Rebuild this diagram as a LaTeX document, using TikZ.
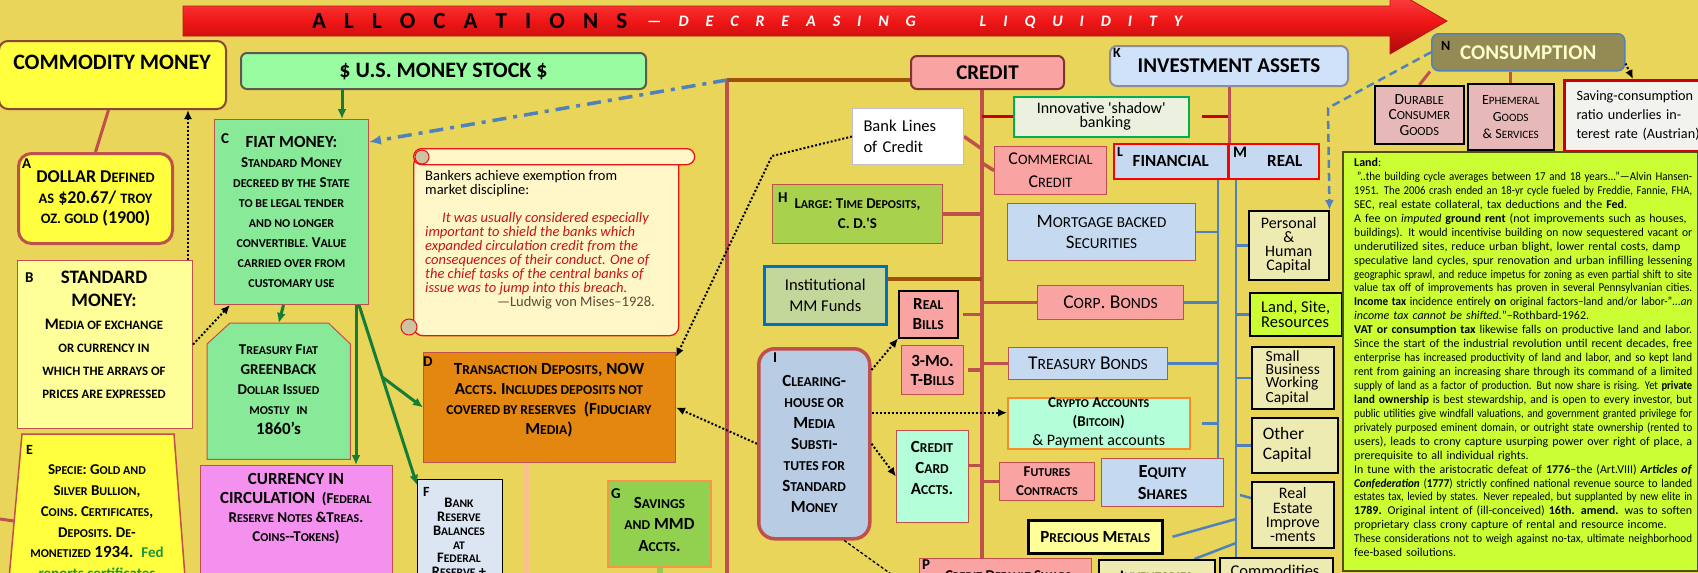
\documentclass[tikz,border=0pt]{standalone}
\usepackage{fontspec}
\setmainfont{Carlito}
\usepackage{graphicx}
\usetikzlibrary{arrows.meta,calc}
\pgfdeclarelayer{back}
\pgfdeclarelayer{lines}
\pgfsetlayers{back,lines,main}
\definecolor{bg}{RGB}{233,213,90}
\definecolor{arrowred}{RGB}{240,22,22}
\definecolor{arrtop}{RGB}{255,80,80}
\definecolor{arrbot}{RGB}{170,10,10}
\definecolor{arrdark}{RGB}{190,20,20}
\definecolor{brd}{RGB}{192,80,77}
\definecolor{cbrown}{RGB}{140,70,50}
\definecolor{dgrayb}{RGB}{90,90,80}
\definecolor{cyellow}{RGB}{255,255,64}
\definecolor{lyellow}{RGB}{255,255,153}
\definecolor{fiatgreen}{RGB}{136,234,152}
\definecolor{msgreen}{RGB}{152,252,160}
\definecolor{curpink}{RGB}{244,144,238}
\definecolor{dorange}{RGB}{227,135,16}
\definecolor{fblue}{RGB}{220,230,242}
\definecolor{ggreen}{RGB}{146,208,80}
\definecolor{gorange}{RGB}{247,150,70}
\definecolor{hgreen}{RGB}{168,210,78}
\definecolor{mmgreen}{RGB}{196,215,155}
\definecolor{mmblue}{RGB}{0,112,192}
\definecolor{crpink}{RGB}{250,163,163}
\definecolor{credbrd}{RGB}{130,50,50}
\definecolor{lblue}{RGB}{197,217,241}
\definecolor{kblue}{RGB}{208,226,250}
\definecolor{kgray}{RGB}{140,140,160}
\definecolor{mint}{RGB}{180,255,217}
\definecolor{crorange}{RGB}{247,140,40}
\definecolor{iblue}{RGB}{184,204,228}
\definecolor{durpink}{RGB}{230,185,184}
\definecolor{olive}{RGB}{148,138,84}
\definecolor{lime}{RGB}{204,255,51}
\definecolor{mcream}{RGB}{238,235,178}
\definecolor{scroll}{RGB}{255,247,200}
\definecolor{scrollred}{RGB}{235,20,20}
\definecolor{quotered}{RGB}{200,20,20}
\definecolor{innov}{RGB}{235,241,222}
\definecolor{innovg}{RGB}{0,176,80}
\definecolor{innovred}{RGB}{200,0,0}
\definecolor{lnblue}{RGB}{79,129,189}
\definecolor{lnbrown}{RGB}{160,80,10}
\definecolor{garrow}{RGB}{20,125,55}
\definecolor{peach}{RGB}{250,192,144}
\definecolor{fedgreen}{RGB}{30,150,60}
\definecolor{sig}{RGB}{90,75,55}
\definecolor{consum}{RGB}{255,255,204}
\definecolor{savbg}{RGB}{242,242,238}
\definecolor{savred}{RGB}{200,0,0}
\definecolor{landbrd}{RGB}{80,80,20}
\definecolor{curl}{RGB}{205,195,160}
\definecolor{bankgray}{RGB}{190,190,205}
\newcommand\fsz[2]{\fontsize{#1}{#2}\selectfont}
\makeatletter
\newcommand\scx[1]{{\fontsize{\the\dimexpr 0.8\dimexpr\f@size pt\relax\relax}{\f@baselineskip}\selectfont\MakeUppercase{#1}}}
\makeatother
\newlength\landw
\setlength\landw{338pt}
\newsavebox\lnbox
\newcommand\jline[1]{\sbox\lnbox{#1}\ifdim\wd\lnbox>\landw\resizebox{\landw}{\height}{\usebox\lnbox}\else\makebox[\landw][s]{#1}\fi}
\newcommand\eline[1]{\sbox\lnbox{#1}\ifdim\wd\lnbox>\landw\resizebox{\landw}{\height}{\usebox\lnbox}\else\usebox\lnbox\fi}
\tikzset{
  bx/.style={draw=brd, line width=1pt, inner sep=0pt, anchor=north west, align=center, text=black},
  lbl/.style={anchor=north west, inner sep=0pt, font=\bfseries\fsz{15}{15}},
  txt/.style={align=center, inner sep=0pt},
  crl/.style={draw=brd, line width=3.5pt},
  bl/.style={draw=lnblue, line width=2.5pt},
  dotar/.style={draw=black, line width=2pt, dash pattern=on 2pt off 2pt, -{Latex[length=9pt,width=8pt]}},
  garr/.style={draw=garrow, line width=3pt, -{Latex[length=10pt,width=9pt]}},
}
\begin{document}
\begin{tikzpicture}[x=1pt,y=-1pt]
\useasboundingbox (0,0) rectangle (1698,573);
\begin{pgfonlayer}{back}
\fill[bg] (-5,-5) rectangle (1703,578);
\shadedraw[top color=arrtop, bottom color=arrbot, middle color=arrowred, draw=arrdark, line width=0.8pt]
  (183,6) -- (1390,6) -- (1390,-12) -- (1447,21) -- (1390,54) -- (1390,36) -- (183,36) -- cycle;
\end{pgfonlayer}
\node[anchor=west, inner sep=0pt, font=\bfseries\fsz{23}{23}] (alloc) at (312,21) {\makebox[315pt][s]{A L L O C A T I O N S}};
\node[anchor=west, inner sep=0pt, font=\bfseries\itshape\fsz{16}{16}, text=white] (decr) at (647,22) {\makebox[535pt][s]{— D E C R E A S I N G \hspace{30pt} L I Q U I D I T Y}};

% left column
\node[bx, fill=cyellow, draw=cbrown, line width=2pt, rounded corners=9pt, minimum width=227pt, minimum height=68pt] (comm) at (-2,40) {};
\node[txt, font=\bfseries\fsz{22}{22}] (commt) at (112,62) {COMMODITY MONEY};
\node[bx, fill=cyellow, line width=3pt, rounded corners=13pt, minimum width=154pt, minimum height=90pt, font=\bfseries\fsz{18}{20.5}] (abox) at (17,152) {DOLLAR D\scx{efined}\\\scx{as} \$20.67/ \scx{troy}\\\scx{oz. gold} (1900)};
\node[lbl] (alab) at (22,159) {A};
\node[bx, fill=lyellow, minimum width=175pt, minimum height=168pt] (bbox) at (17,260) {};
\node[txt, font=\bfseries\fsz{16}{23}] (btext) at (104,334.5) {{\fsz{19}{23}STANDARD}\\{\fsz{19}{23}MONEY:}\\M\scx{edia of exchange}\\\scx{or currency in}\\\scx{which the arrays of}\\\scx{prices are expressed}};
\node[lbl] (blab) at (25,273) {B};
\draw[draw=brd, line width=1.5pt, fill=cyellow] (22,434) -- (174,434) -- (186,590) -- (8,590) -- cycle;
\node[txt, font=\bfseries\fsz{15}{20.8}] (etext) at (97,523) {S\scx{pecie}: G\scx{old and}\\S\scx{ilver} B\scx{ullion},\\C\scx{oins}. C\scx{ertificates},\\D\scx{eposits}. D\scx{e}-\\\scx{monetized} {\fsz{17}{20.8}1934.}~ {\color{fedgreen}Fed}\\{\color{fedgreen}reports certificates}};
\node[lbl, font=\bfseries\fsz{14}{14}] (elab) at (26,445) {E};
\coordinate (eL) at (13.7,521);
\coordinate (eLeft) at (0,519);

% money stock column
\node[bx, fill=msgreen, draw=dgrayb, line width=2pt, rounded corners=6pt, minimum width=405pt, minimum height=36pt, font=\bfseries\fsz{22}{22}] (ms) at (240,52) {\$ U.S. MONEY STOCK \$};
\node[bx, fill=fiatgreen, minimum width=154pt, minimum height=185pt, font=\bfseries\fsz{15}{20}] (fiat) at (214,119) {{\fsz{17}{20}FIAT MONEY:}\\S\scx{tandard} M\scx{oney}\\\scx{decreed by the} S\scx{tate}\\\scx{to be legal tender}\\\scx{and no longer}\\\scx{convertible.} V\scx{alue}\\\scx{carried over from}\\\scx{customary use}};
\node[lbl] (clab) at (221,133) {C};
\node[anchor=north west, minimum width=143pt, minimum height=136pt, inner sep=0pt] (treas) at (207,323) {};
\draw[draw=brd, line width=1pt, fill=fiatgreen] ($(treas.north west)+(23,0)$) -- ($(treas.north east)+(-22,0)$) -- ($(treas.north east)+(0,21)$) -- (treas.south east) -- (treas.south west) -- ($(treas.north west)+(0,21)$) -- cycle;
\node[txt, font=\bfseries\fsz{15}{20}] (treast) at (278.5,390) {T\scx{reasury} F\scx{iat}\\GREENBACK\\D\scx{ollar} I\scx{ssued}\\\scx{mostly}~~\scx{in}\\{\fsz{17}{20}1860's}};
\node[bx, fill=curpink, minimum width=192pt, minimum height=130pt] (cur) at (200,465) {};
\node[txt, font=\bfseries\fsz{15}{19}] (curt) at (296,509) {{\fsz{17}{19}CURRENCY IN}\\{\fsz{17}{19}CIRCULATION}~~(F\scx{ederal}\\R\scx{eserve} N\scx{otes} \&T\scx{reas}.\\C\scx{oins}-{}-T\scx{okens})};

% scroll
\node[bx, draw=scrollred, line width=1.3pt, fill=scroll, rounded corners=9pt, minimum width=265pt, minimum height=180pt] (scr) at (413,155) {};
\node[bx, draw=scrollred, line width=1.3pt, fill=scroll, rounded corners=8pt, minimum width=281pt, minimum height=16pt] (scrtop) at (413,148) {};
\draw[draw=scrollred, line width=1pt, fill=curl] (422,157) circle (7pt);
\draw[draw=scrollred, line width=1pt, fill=curl] (409,327) circle (8pt);
\node[anchor=north west, inner sep=0pt, align=left, font=\fsz{14.5}{14}] (scr1) at (425,170) {Bankers achieve exemption from\\market discipline:};
\node[anchor=north west, inner sep=0pt, align=left, font=\itshape\fsz{14.5}{14}, text=quotered] (scr2) at (425,212) {\hspace*{17pt}It was usually considered especially\\important to shield the banks which\\expanded circulation credit from the\\consequences of their conduct. One of\\the chief tasks of the central banks of\\issue was to jump into this breach.};
\node[anchor=north east, inner sep=0pt, font=\fsz{14.5}{14}, text=sig] (scr3) at (655,296) {—Ludwig von Mises–1928.};

% D F G
\node[bx, fill=dorange, minimum width=252pt, minimum height=110pt] (dbox) at (423,352) {};
\node[txt, font=\bfseries\fsz{17}{20}] (dtext) at (549,400) {T\scx{ransaction} D\scx{eposits}, NOW\\A\scx{ccts}. I\scx{ncludes deposits not}\\\scx{covered by reserves}~~(F\scx{iduciary}\\M\scx{edia})};
\node[lbl] (dlab) at (423,357) {D};
\node[bx, fill=fblue, draw=black, line width=1.2pt, minimum width=85pt, minimum height=130pt] (fbox) at (417,479) {};
\node[txt, font=\bfseries\fsz{14.5}{13.8}] (ftext) at (459,537.5) {B\scx{ank}\\R\scx{eserve}\\B\scx{alances}\\\scx{at}\\F\scx{ederal}\\R\scx{eserve} +};
\node[lbl, font=\bfseries\fsz{14}{14}] (flab) at (423,487) {F};
\node[bx, fill=ggreen, draw=gorange, line width=2pt, minimum width=103pt, minimum height=86pt, font=\bfseries\fsz{17}{21.5}] (gbox) at (607,480) {S\scx{avings}\\\scx{and} MMD\\A\scx{ccts}.};
\node[lbl] (glab) at (611,488) {G};

% credit column
\node[bx, fill=crpink, draw=credbrd, line width=2pt, rounded corners=6pt, minimum width=153pt, minimum height=33pt, font=\bfseries\fsz{21}{21}] (credit) at (910,55) {CREDIT};
\node[bx, fill=white, draw=bankgray, line width=1pt, minimum width=111pt, minimum height=56pt, inner xsep=11pt, text width=89pt, align=left, font=\fsz{16.5}{21}] (bank) at (852,108) {Bank Lines\\of Credit};
\node[bx, fill=innov, draw=innovg, line width=1.5pt, minimum width=175pt, minimum height=40pt, font=\fsz{16}{14}] (innov) at (1013,96) {Innovative \textquotesingle shadow\textquotesingle\\\hspace*{8pt}banking};
\node[bx, fill=crpink, minimum width=112pt, minimum height=48pt, font=\fsz{18}{23}] (ccr) at (994,146) {C\scx{ommercial}\\C\scx{redit}};
\node[bx, fill=hgreen, minimum width=170pt, minimum height=59pt, font=\bfseries\fsz{15}{20}] (hbox) at (772,184) {L\scx{arge}: T\scx{ime} D\scx{eposits},\\C. D.\textquotesingle S};
\node[lbl] (hlab) at (778,193) {H};
\node[bx, fill=mmgreen, draw=mmblue, line width=2.5pt, minimum width=122pt, minimum height=58pt, font=\fsz{16.5}{21}] (inst) at (763,265) {Institutional\\MM Funds};
\node[bx, fill=crpink, draw=black, line width=1.5pt, minimum width=59pt, minimum height=47pt, font=\bfseries\fsz{17}{20}] (rb) at (898,290) {R\scx{eal}\\B\scx{ills}};
\node[bx, fill=crpink, minimum width=62pt, minimum height=49pt, font=\bfseries\fsz{17}{19}] (tm) at (901,345) {3-M\scx{o}.\\T-B\scx{ills}};
\node[bx, fill=mint, minimum width=72pt, minimum height=92pt] (ccard) at (896,430) {};
\node[txt, font=\bfseries\fsz{17}{21}] (ccardt) at (932,468) {C\scx{redit}\\C\scx{ard}\\A\scx{ccts}.};
\node[bx, fill=iblue, line width=3.5pt, rounded corners=16pt, minimum width=111pt, minimum height=190pt, font=\bfseries\fsz{17}{21}] (iclear) at (757,347) {C\scx{learing}-\\\scx{house or}\\M\scx{edia}\\S\scx{ubsti}-\\\scx{tutes for}\\S\scx{tandard}\\M\scx{oney}};
\node[lbl] (ilab) at (773,353) {I};
\node[bx, fill=lblue, minimum width=188pt, minimum height=57pt, font=\fsz{19}{21}] (mbs) at (1007,203) {M\scx{ortgage backed}\\S\scx{ecurities}};
\node[bx, fill=crpink, minimum width=146pt, minimum height=34pt, font=\fsz{19.5}{20}] (corp) at (1037,285) {C\scx{orp}. B\scx{onds}};
\node[bx, fill=lblue, minimum width=159pt, minimum height=32pt, font=\fsz{19.5}{20}] (tb) at (1008,347) {T\scx{reasury} B\scx{onds}};
\node[bx, fill=mint, draw=crorange, line width=1.5pt, minimum width=182pt, minimum height=51pt, font=\fsz{15}{19}] (crypto) at (1007,397) {\textbf{C\scx{rypto} A\scx{ccounts}}\\\textbf{(B\scx{itcoin})}\\{\fsz{16}{19}\& Payment accounts}};
\node[bx, fill=crpink, minimum width=95pt, minimum height=38pt, font=\bfseries\fsz{15}{19}] (fut) at (999,462) {F\scx{utures}\\C\scx{ontracts}};
\node[bx, fill=lblue, minimum width=122pt, minimum height=48pt, font=\bfseries\fsz{18.5}{22}] (eq) at (1101,458) {E\scx{quity}\\S\scx{hares}};
\node[bx, fill=lyellow, draw=black, line width=2.5pt, minimum width=134pt, minimum height=33pt, font=\bfseries\fsz{17}{17}] (pm) at (1027,519) {P\scx{recious} M\scx{etals}};
\node[bx, fill=crpink, minimum width=172pt, minimum height=40pt] (pbox) at (919,558) {};
\node[txt, font=\bfseries\fsz{15}{15}] (ptext) at (1008,576) {C\scx{redit} D\scx{efault} S\scx{waps}};
\node[lbl] (plab) at (922,560) {P};
\node[bx, fill=mcream, draw=black, line width=1.5pt, minimum width=116pt, minimum height=40pt] (inv) at (1098,559) {};
\node[txt, font=\bfseries\fsz{16}{16}] (invt) at (1156,576) {I\scx{nventories}};
\node[bx, fill=mcream, draw=black, line width=1.5pt, minimum width=113pt, minimum height=40pt] (commod) at (1219,557) {};
\node[txt, font=\fsz{16.5}{16}] (commodt) at (1275,571) {Commodities};

% investment assets
\node[bx, fill=kblue, draw=kgray, line width=2pt, rounded corners=7pt, minimum width=238pt, minimum height=40pt, font=\bfseries\fsz{21}{21}] (kbox) at (1109,45) {INVESTMENT ASSETS};
\node[lbl, font=\bfseries\fsz{14}{14}] (klab) at (1113,48) {K};
\node[bx, fill=lblue, draw=red, line width=1.5pt, minimum width=114pt, minimum height=35pt, font=\bfseries\fsz{17}{17}] (lfin) at (1113,143) {FINANCIAL};
\node[lbl, font=\bfseries\fsz{14}{14}] (llab) at (1117,147) {L};
\node[bx, fill=lblue, draw=red, line width=1.5pt, minimum width=90pt, minimum height=35pt, font=\bfseries\fsz{17}{17}] (mreal) at (1228,143) {\hspace*{22pt}REAL};
\node[lbl, font=\bfseries\fsz{16}{16}] (mlab) at (1233,147) {M};
\node[bx, fill=mcream, draw=black, line width=1.5pt, minimum width=80pt, minimum height=69pt, font=\fsz{16}{14}] (pers) at (1248,210) {Personal\\\&\\Human\\Capital};
\node[bx, fill=lime, draw=black, line width=1.5pt, minimum width=92pt, minimum height=43pt, align=left, font=\fsz{16.5}{15}] (lsr) at (1249,292) {Land, Site,\\Resources};
\node[bx, fill=mcream, draw=black, line width=1.5pt, minimum width=82pt, minimum height=62pt, align=left, font=\fsz{15.5}{13}] (sbw) at (1251,346) {Small\\Business\\Working\\Capital};
\node[bx, fill=mcream, draw=black, line width=1.5pt, minimum width=86pt, minimum height=55pt, inner xsep=11pt, text width=64pt, align=left, font=\fsz{17.5}{20}] (oth) at (1251,417) {Other\\Capital};
\node[bx, fill=mcream, draw=black, line width=1.5pt, minimum width=82pt, minimum height=66pt, font=\fsz{16}{14.2}] (rei) at (1251,481) {Real\\Estate\\Improve\\-ments};

% consumption
\node[bx, fill=olive, draw=lnblue, line width=1.5pt, rounded corners=7pt, minimum width=193pt, minimum height=37pt, font=\bfseries\fsz{21}{21}, text=consum] (nbox) at (1431,33) {CONSUMPTION};
\node[lbl, font=\bfseries\fsz{14}{14}] (nlab) at (1441,41) {N};
\node[bx, fill=durpink, draw=black, line width=1.5pt, minimum width=89pt, minimum height=58pt, font=\fsz{15.5}{15.5}] (dur) at (1374,85) {D\scx{urable}\\C\scx{onsumer}\\G\scx{oods}};
\node[bx, fill=durpink, draw=black, line width=1.5pt, minimum width=86pt, minimum height=66pt, font=\fsz{14}{17}] (eph) at (1467,83) {E\scx{phemeral}\\G\scx{oods}\\\& S\scx{ervices}};
\node[bx, fill=savbg, draw=savred, line width=3pt, minimum width=160pt, minimum height=71pt, inner xsep=12pt, text width=145pt, align=left, font=\fsz{14.2}{19}] (sav) at (1563,79) {Saving-consumption\\ratio underlies in-\\terest rate (Austrian)};
\node[bx, fill=lime, draw=landbrd, line width=1.5pt, minimum width=355pt, minimum height=419pt] (landbox) at (1342,151) {};
\node[anchor=north west, inner sep=0pt, text width=\landw, align=left, font=\fsz{12}{13.93}] (landtext) at (1354,158) {%
\eline{\textbf{Land}:}\\
\jline{\hspace*{3pt}"..the building cycle averages between 17 and 18 years..."—Alvin Hansen-}\\
\jline{1951. The 2006 crash ended an 18-yr cycle fueled by Freddie, Fannie, FHA,}\\
\eline{SEC, real estate collateral, tax deductions and the \textbf{Fed}.}\\
\jline{A fee on \textit{imputed} \textbf{ground rent} (not improvements such as houses,}\\
\jline{buildings). It would incentivise building on now sequestered vacant or}\\
\jline{underutilized sites, reduce urban blight, lower rental costs, damp}\\
\jline{speculative land cycles, spur renovation and urban infilling lessening}\\
\jline{geographic sprawl, and reduce impetus for zoning as even partial shift to site}\\
\eline{value tax off of improvements has proven in several Pennsylvanian cities.}\\
\jline{\textbf{Income tax} incidence entirely \textbf{on} original factors–land and/or labor-"\textit{...an}}\\
\eline{\textit{income tax cannot be shifted.}"–Rothbard-1962.}\\
\eline{\textbf{VAT or consumption tax} likewise falls on productive land and labor.}\\
\jline{Since the start of the industrial revolution until recent decades, free}\\
\jline{enterprise has increased productivity of land and labor, and so kept land}\\
\jline{rent from gaining an increasing share through its command of a limited}\\
\jline{supply of land as a factor of production. But now share is rising. Yet \textbf{private}}\\
\jline{\textbf{land ownership} is best stewardship, and is open to every investor, but}\\
\jline{public utilities give windfall valuations, and government granted privilege for}\\
\jline{privately purposed eminent domain, or outright state ownership (rented to}\\
\jline{users), leads to crony capture usurping power over right of place, a}\\
\eline{prerequisite to all individual rights.}\\
\jline{In tune with the aristocratic defeat of \textbf{1776}–the (Art.VIII) \textbf{\textit{Articles of}}}\\
\jline{\textbf{\textit{Confederation}} (\textbf{1777}) strictly confined national revenue source to landed}\\
\jline{estates tax, levied by states. Never repealed, but supplanted by new elite in}\\
\jline{\textbf{1789.} Original intent of (ill-conceived) \textbf{16th. amend.} was to soften}\\
\eline{proprietary class crony capture of rental and resource income.}\\
\jline{These considerations not to weigh against no-tax, ultimate neighborhood}\\
\eline{fee-based soilutions.}};

% coordinates
\coordinate (crtop) at (727,80);
\coordinate (crbot) at (727,580);
\coordinate (cv) at (982,88);
\coordinate (lv) at (1218,178);
\coordinate (mv) at (1236,178);
\coordinate (ie) at ($(inst.north east)+(0,14)$);
\coordinate (ccj) at ($(ccard.east)+(0,-11)$);
\coordinate (bd) at ($(bbox.north east)+(-5,0)$);
\coordinate (fbl) at ($(fiat.south west)+(16,0)$);
\coordinate (bk1) at (772,156);
\coordinate (ia) at ($(iclear.east)+(0,-31)$);
\coordinate (g1) at ($(ms.south west)+(102,0)$);
\coordinate (g2) at ($(fiat.south)+(-8,0)$);
\coordinate (g3) at ($(fiat.south east)+(-13,0)$);
\coordinate (g4) at ($(fiat.south east)+(-10,0)$);
\coordinate (fnw) at ($(fbox.north west)+(0,6)$);
\coordinate (gb) at ($(g4)!0.4!(fnw)$);
\coordinate (fe) at ($(fiat.north east)+(0,23)$);
\coordinate (nd) at (1328,108);
\coordinate (pk) at ($(dbox.south)+(-23,0)$);
\coordinate (ivj) at ($(mv |- inv.north)+(0,-16)$);

\begin{pgfonlayer}{lines}
\draw[draw=brd, line width=3pt] ($(comm.south)+(-4,0)$) -- (abox.north);
\draw[draw=brd, line width=3pt] (eLeft) -- (eL);
\draw[draw=peach, line width=7pt] (pk) -- ++(0,130);
\draw[draw=ggreen, line width=6pt] (gbox.south) -- ++(0,20);
\draw[draw=brd, line width=4pt] (crtop) -- (crbot);
\draw[draw=lnbrown, line width=4pt] (crtop) -- (crtop -| credit.west);
\draw[crl] (cv) -- (cv |- pbox.north);
\draw[draw=innovred, line width=3pt] (innov.west) -- (innov.west -| cv);
\draw[draw=innovred, line width=3pt] ($(innov.east)+(12,0)$) -- (innov.east -| kbox.south);
\draw[draw=brd, line width=3pt] (kbox.south) -- (kbox.south |- lfin.north);
\draw[crl] (bank.east) -- ($(cv)+(0,61)$);
\draw[crl] (ccr.west) -- ($(cv)+(0,75)$);
\draw[crl] (hbox.east) -- (hbox.east -| cv);
\draw[draw=lnbrown, line width=4pt] (ie) -- (ie -| cv);
\draw[crl] ($(rb.east)+(4,0)$) -- (rb.east -| cv);
\draw[crl] ($(tm.east)+(4,0)$) -- (tm.east -| cv);
\draw[crl] (corp.west) -- (corp.west -| cv);
\draw[crl] (tb.west) -- (tb.west -| cv);
\draw[crl] (ccj) -- (ccj -| cv);
\draw[crl] (fut.west) -- (fut.west -| cv);
\draw[bl] (lv) -- (lv |- eq.north);
\draw[bl] (mv) -- (mv |- commod.north);
\draw[bl] (mbs.east) -- (mbs.east -| lv);
\draw[bl] (corp.east) -- (corp.east -| lv);
\draw[bl] (tb.east) -- (tb.east -| lv);
\draw[bl] ($(crypto.east)+(11,0)$) -- (crypto.east -| lv);
\draw[bl] (pers.west -| mv) -- (pers.west);
\draw[bl] (lsr.west -| mv) -- (lsr.west);
\draw[bl] (sbw.west -| mv) -- (sbw.west);
\draw[bl] (oth.west -| mv) -- (oth.west);
\draw[bl] ($(rei.north west)+(-11,14)$) -- ($(rei.north west)+(0,17)$);
\draw[bl] ($(pm.east)+(9,0)$) -- (mv |- pm.north);
\draw[bl] ($(inv.north east)+(-21,0)$) -- (ivj);
\draw[draw=brd, line width=3pt] (dur.north) -- ($(nbox.south west)+(-1,0)$);
\draw[draw=brd, line width=3pt] (eph.north) -- (eph.north |- nbox.south);
\end{pgfonlayer}

% arrows
\draw[draw=black, line width=1.3pt, dash pattern=on 3pt off 2pt] ($(iclear.south)+(30,0)$) -- ++(60,43);
\draw[dotar] (bd) -- (bd |- comm.south);
\draw[dotar] (bbox.east) -- (fbl);
\draw[dotar] (bank.west) -- (bk1) -- ($(dbox.north east)+(0,5)$);
\draw[dotar] (iclear.west) -- (dbox.east);
\draw[dotar] ($(iclear.north east)+(0,23)$) -- (rb.south west);
\draw[dotar] (ia) -- (ia -| crypto.west);
\draw[dotar] (iclear.east) -- (ccard.west);
\draw[dotar] ($(nbox.south east)+(0,-8)$) -- ($(sav.north west)+(70,0)$);
\draw[garr] (g1) -- (g1 |- fiat.north);
\draw[garr] (g2) -- (treas.north);
\draw[garr] (g3) -- (g3 |- cur.north);
\draw[garr] (g4) -- (fnw);
\draw[garr] (gb) -- (dbox.west);
\draw[draw=lnblue, line width=3.5pt, dash pattern=on 14pt off 7pt on 4pt off 7pt, -{Latex[length=12pt,width=10pt]}] (crtop) -- (fe);
\draw[draw=lnblue, line width=2.5pt, dash pattern=on 8pt off 5pt, -{Latex[length=10pt,width=9pt]}] (nbox.west) -- (nd) -- (pers.north east);
\end{tikzpicture}
\end{document}
